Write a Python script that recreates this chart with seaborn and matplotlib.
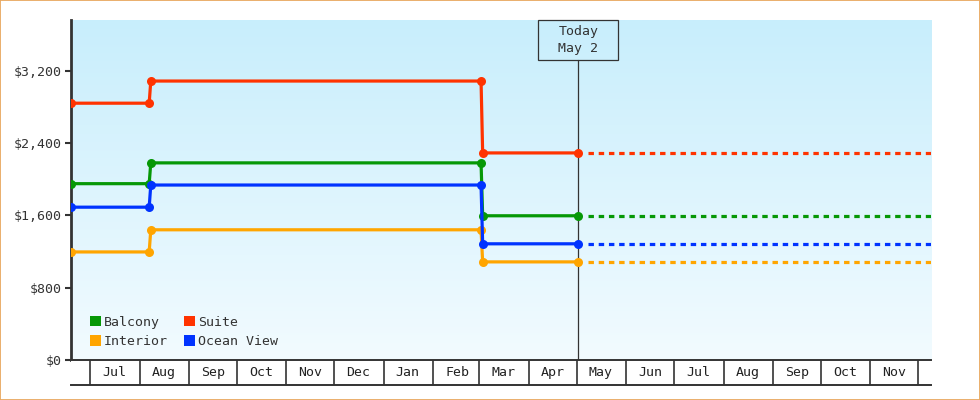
import numpy as np
import pandas as pd
import matplotlib
matplotlib.use("Agg")
import matplotlib.pyplot as plt
import matplotlib.dates as mdates
import matplotlib.ticker as mtick
from matplotlib.patches import Patch, Rectangle
import seaborn as sns

# price history (step changes) per cabin type
cabins = ["Balcony", "Interior", "Suite", "Ocean View"]
colors = {"Balcony": "#069806", "Interior": "#ffa500", "Suite": "#ff3300", "Ocean View": "#0033ff"}
change_dates = ["2023-06-19", "2023-08-07", "2023-08-08", "2024-03-02", "2024-03-03", "2024-05-02"]
prices = {
    "Balcony":    [1950, 1950, 2180, 2180, 1595, 1595],
    "Interior":   [1195, 1195, 1440, 1440, 1085, 1085],
    "Suite":      [2840, 2840, 3085, 3085, 2290, 2290],
    "Ocean View": [1690, 1690, 1935, 1935, 1285, 1285],
}
today = "2024-05-02"
today_label = "Today\nMay 2"
proj_start = "2024-05-08"
x_start, x_end = "2023-06-19", "2024-12-09"
month_starts = pd.date_range("2023-07-01", "2024-12-01", freq="MS")
y_ticks = [0, 800, 1600, 2400, 3200]

sns.set_style("white")
plt.rcParams["font.family"] = ["DejaVu Sans Mono"]
plt.rcParams["font.size"] = 9.5

hist = pd.DataFrame([
    {"date": pd.Timestamp(d), "price": p, "cabin": c}
    for c in cabins for d, p in zip(change_dates, prices[c])
])
proj = pd.DataFrame([
    {"date": pd.Timestamp(d), "price": prices[c][-1], "cabin": c}
    for c in cabins for d in [proj_start, x_end]
])

fig = plt.figure(figsize=(9.8, 4), dpi=100)
ax = fig.add_axes([71 / 980, 40 / 400, 860 / 980, 340 / 400])

# gradient background
grad = np.linspace(0, 1, 256)[:, None, None]
top = np.array([200, 238, 252]) / 255
bot = np.array([242, 251, 255]) / 255
img = top * (1 - grad) + bot * grad
ax.imshow(img, extent=[0, 1, 0, 1], transform=ax.transAxes, aspect="auto", zorder=0)

sns.lineplot(data=hist, x="date", y="price", hue="cabin", palette=colors, marker="o",
             markersize=6.5, markeredgewidth=0, linewidth=2.3, estimator=None, sort=False,
             legend=False, ax=ax, zorder=3)
sns.lineplot(data=proj, x="date", y="price", hue="cabin", palette=colors,
             linewidth=2.3, estimator=None, sort=False, legend=False, ax=ax, zorder=3)
for line in ax.lines[len(cabins):]:
    line.set_linestyle((0, (1.7, 1.5)))
    line.set_dash_capstyle("butt")

x0, x1 = mdates.date2num(pd.Timestamp(x_start)), mdates.date2num(pd.Timestamp(x_end))
ax.set_xlim(x0, x1)
ax.set_ylim(0, 3760)
ax.set_yticks(y_ticks)
ax.yaxis.set_major_formatter(mtick.StrMethodFormatter("${x:,.0f}"))
ax.tick_params(axis="y", left=True, length=4.5, width=1.5, color="#333333",
               labelcolor="#333333", pad=2)
ax.set_xticks([])
ax.set_xlabel("")
ax.set_ylabel("")
for s in ["top", "right", "bottom"]:
    ax.spines[s].set_visible(False)
ax.spines["left"].set_color("#333333")
ax.spines["left"].set_linewidth(2)

# today marker
td = mdates.date2num(pd.Timestamp(today))
box_h = 40 / 340
ax.axvline(td, ymin=0, ymax=1 - box_h, color="#333333", lw=0.9, zorder=2)
fx = (td - x0) / (x1 - x0)
box_w = 80 / 860
ax.add_patch(Rectangle((fx - box_w / 2, 1 - box_h), box_w, box_h, transform=ax.transAxes,
                       fill=False, ec="#333333", lw=0.9, zorder=4, clip_on=False))
ax.text(fx, 1 - box_h / 2, today_label, transform=ax.transAxes, ha="center", va="center",
        color="#333333", linespacing=1.35, zorder=4)

# legend
handles = [Patch(facecolor=colors[c], edgecolor="none", label=c) for c in cabins]
ax.legend(handles=handles, ncol=2, loc="lower left", bbox_to_anchor=(0.008, 0.0),
          frameon=False, handlelength=0.85, handleheight=0.85, handletextpad=0.2,
          columnspacing=1.25, labelspacing=0.5, labelcolor="#333333")

# month strip under the plot
ax2 = fig.add_axes([71 / 980, 15 / 400, 860 / 980, 25 / 400], sharex=ax)
ax2.set_facecolor("white")
ax2.set_ylim(0, 1)
ax2.vlines(month_starts, 0, 1, color="#333333", lw=1.2)
mids = month_starts + pd.Timedelta(days=15)
ax2.set_xticks([])
ax2.set_yticks([])
for m, lab in zip(mids[:-1], month_starts[:-1].strftime("%b")):
    ax2.text(m, 0.5, lab, ha="center", va="center", color="#222222")
for s in ["left", "right"]:
    ax2.spines[s].set_visible(False)
for s in ["top", "bottom"]:
    ax2.spines[s].set_color("#333333")
    ax2.spines[s].set_linewidth(1.4)
ax2.set_xlim(x0, x1)

fig.add_artist(Rectangle((0.0005, 0.001), 0.999, 0.998, transform=fig.transFigure,
                         fill=False, ec="#e8a860", lw=1.3))

fig.savefig("out.png", dpi=100)
